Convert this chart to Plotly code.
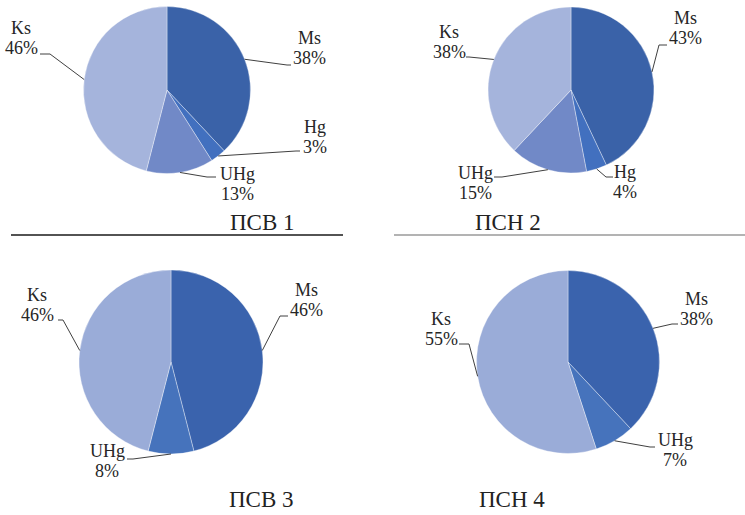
import math
import plotly.graph_objects as go

W, H = 745, 515

# Data: category shares (%) for each sample
titles = ["ПСВ 1", "ПСН 2", "ПСВ 3", "ПСН 4"]
labels_1 = ["Ms", "Hg", "UHg", "Ks"]
values_1 = [38, 3, 13, 46]
labels_2 = ["Ms", "Hg", "UHg", "Ks"]
values_2 = [43, 4, 15, 38]
labels_3 = ["Ms", "UHg", "Ks"]
values_3 = [46, 8, 46]
labels_4 = ["Ms", "UHg", "Ks"]
values_4 = [38, 7, 55]

# Layout (pixels): pie centre and radius, title position
pie_layout = [
    dict(cx=167, cy=90, r=83.5, title=(262, 222, "middle")),
    dict(cx=571, cy=90, r=83, title=(508, 222, "middle")),
    dict(cx=171, cy=362, r=92, title=(261, 514, "bottom")),
    dict(cx=568, cy=362, r=91.5, title=(512, 514, "bottom")),
]

colors_a = {"Ms": "#3A62A8", "Hg": "#4270BF", "UHg": "#7189C7", "Ks": "#A5B4DC"}
colors_b = {"Ms": "#3A63AD", "UHg": "#4673BC", "Ks": "#9AACD8"}
pie_colors = [colors_a, colors_a, colors_b, colors_b]

# Label placement (pixels): text centre, then leader-line waypoints toward the label
label_layout = [
    {"Ms": ((309, 48), [(287, 65), (291, 65)]),
     "Hg": ((315, 137), [(296, 151), (300, 151)]),
     "UHg": ((237, 184), [(207, 177), (216, 177)]),
     "Ks": ((21, 38), [(50, 54), (40, 54)])},
    {"Ms": ((685, 28), [(659, 45), (667, 45)]),
     "Hg": ((625, 182), [(606, 177), (613, 177)]),
     "UHg": ((475, 183), [(502, 177), (494, 177)]),
     "Ks": ((449, 42), [(469, 57), (466, 57)])},
    {"Ms": ((306, 300), [(280, 316), (288, 316)]),
     "UHg": ((107, 461), [(133, 459), (127, 459)]),
     "Ks": ((37, 305), [(63, 320), (58, 320)])},
    {"Ms": ((696, 309), [(672, 324), (678, 324)]),
     "UHg": ((675, 450), [(650, 447), (655, 447)]),
     "Ks": ((441, 329), [(469, 344), (459, 344)])},
]

FONT = "Liberation Serif, Times New Roman, serif"
TEXT_COLOR = "#262626"
LABEL_SIZE = 18
LINE_GAP = 20  # px between the two lines of a slice label


def px(x):
    return x / W


def py(y):
    return 1 - y / H


all_labels = [labels_1, labels_2, labels_3, labels_4]
all_values = [values_1, values_2, values_3, values_4]

fig = go.Figure()
shapes = []
annotations = []

for i, (labs, vals) in enumerate(zip(all_labels, all_values)):
    g = pie_layout[i]
    cx, cy, r = g["cx"], g["cy"], g["r"]
    fig.add_trace(go.Pie(
        labels=labs, values=vals, sort=False, direction="clockwise", rotation=0,
        textinfo="none", hoverinfo="label+percent", showlegend=False,
        marker=dict(colors=[pie_colors[i][l] for l in labs],
                    line=dict(color="rgba(255,255,255,0.45)", width=0.8)),
        domain=dict(x=[px(cx - r), px(cx + r)], y=[py(cy + r), py(cy - r)]),
    ))

    total = sum(vals)
    cum = 0
    for lab, v in zip(labs, vals):
        mid = (cum + v / 2) / total * 2 * math.pi
        cum += v
        ex, ey = cx + r * math.sin(mid), cy - r * math.cos(mid)
        (tx, ty), pts = label_layout[i][lab]
        path = f"M {px(ex)} {py(ey)}"
        for (qx, qy) in pts:
            path += f" L {px(qx)} {py(qy)}"
        shapes.append(dict(type="path", path=path, xref="paper", yref="paper",
                           line=dict(color="#404040", width=1)))
        pct = round(v / total * 100)
        for txt, dy in ((lab, -LINE_GAP / 2), (f"{pct}%", LINE_GAP / 2)):
            annotations.append(dict(
                x=px(tx), y=py(ty + dy), xref="paper", yref="paper",
                text=txt, showarrow=False, align="center",
                xanchor="center", yanchor="middle",
                font=dict(family=FONT, size=LABEL_SIZE, color=TEXT_COLOR),
            ))

    tx, ty, anchor = g["title"]
    annotations.append(dict(
        x=px(tx), y=py(ty), xref="paper", yref="paper", text=titles[i],
        showarrow=False, xanchor="center", yanchor=anchor,
        font=dict(family=FONT, size=23, color="#222222"),
    ))

# Separator rules under the upper row
shapes.append(dict(type="line", xref="paper", yref="paper",
                   x0=px(11), x1=px(343), y0=py(235), y1=py(235),
                   line=dict(color="#1a1a1a", width=1.5)))
shapes.append(dict(type="line", xref="paper", yref="paper",
                   x0=px(394), x1=px(745), y0=py(235), y1=py(235),
                   line=dict(color="#9a9a9a", width=1.5)))

fig.update_layout(
    width=W, height=H,
    margin=dict(l=0, r=0, t=0, b=0),
    paper_bgcolor="white", plot_bgcolor="white",
    shapes=shapes, annotations=annotations,
)

fig.write_html("out.html")
